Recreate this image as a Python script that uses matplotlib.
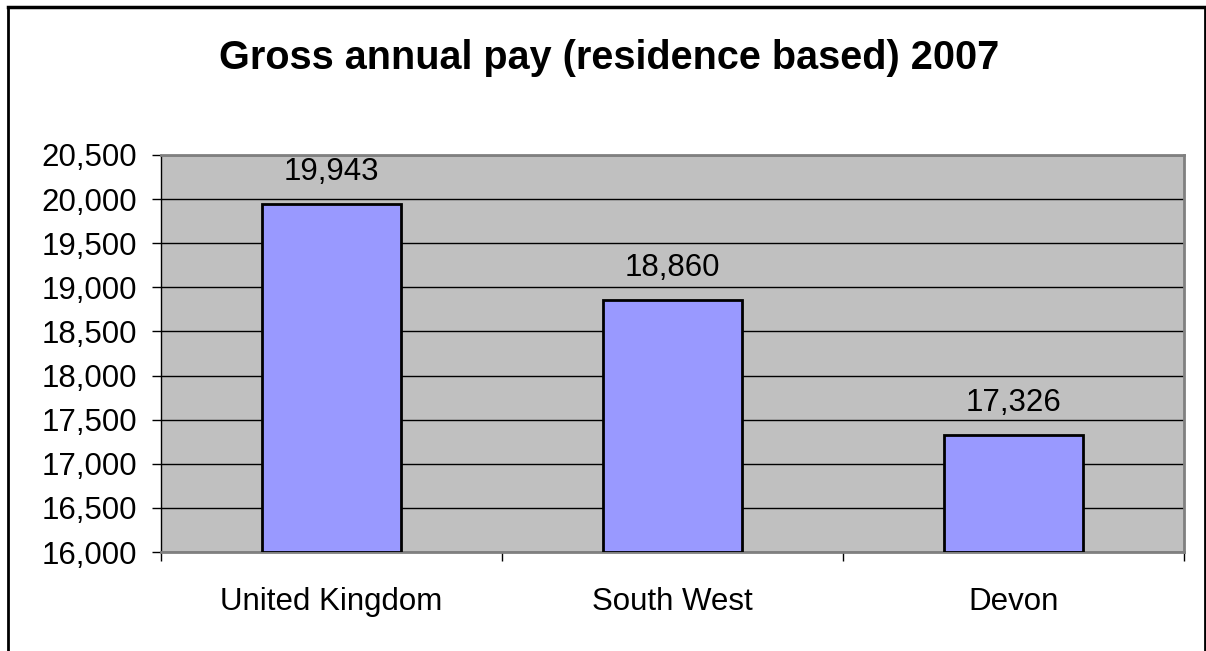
import matplotlib.pyplot as plt
from matplotlib.lines import Line2D
from matplotlib.ticker import FuncFormatter

categories = ['United Kingdom', 'South West', 'Devon']
pay = [19943, 18860, 17326]
y_ticks = list(range(16000, 20501, 500))

plt.rcParams['font.family'] = ['Liberation Sans', 'DejaVu Sans']

fig = plt.figure(figsize=(12.06, 6.51), dpi=100)
ax = fig.add_axes([161 / 1206, 1 - 552 / 651, 1023 / 1206, 397 / 651])

ax.set_facecolor('#C0C0C0')
x = range(len(categories))
bars = ax.bar(x, [v - 16000 for v in pay], bottom=16000, width=0.405,
              color='#9999FF', edgecolor='black', linewidth=2, zorder=3)

ax.set_ylim(16000, 20500)
ax.set_xlim(-0.5, len(categories) - 0.5)
ax.set_yticks(y_ticks)
ax.yaxis.set_major_formatter(FuncFormatter(lambda v, p: f'{int(v):,}'))
ax.grid(axis='y', color='black', linewidth=1, zorder=1)
ax.tick_params(axis='y', labelsize=22.5, length=6.5, width=1, color='black', pad=10.5)

# category labels without ticks, boundary ticks separately
ax.set_xticks(list(x))
ax.set_xticklabels(categories, fontsize=22.5)
ax.tick_params(axis='x', length=0, pad=25)
ax.set_xticks([i - 0.5 for i in range(len(categories) + 1)], minor=True)
ax.tick_params(axis='x', which='minor', length=6.5, width=1, color='black')

for side in ['top', 'right', 'bottom']:
    ax.spines[side].set_color('#808080')
    ax.spines[side].set_linewidth(2)
ax.spines['left'].set_color('black')
ax.spines['left'].set_linewidth(1)

for b, v in zip(bars, pay):
    ax.text(b.get_x() + b.get_width() / 2, v + 270, f'{v:,}',
            ha='center', va='baseline', fontsize=22.5)

fig.text(609 / 1206, 1 - 69 / 651, 'Gross annual pay (residence based) 2007',
         ha='center', va='baseline', fontsize=28.5, fontweight='bold')

# outer chart border (bottom edge is cut off)
fig.add_artist(Line2D([8 / 1206, 8 / 1206], [0, 1 - 7 / 651],
                      transform=fig.transFigure, color='black', linewidth=2))
fig.add_artist(Line2D([8 / 1206, 1205 / 1206], [1 - 7 / 651, 1 - 7 / 651],
                      transform=fig.transFigure, color='black', linewidth=2.5))
fig.add_artist(Line2D([1205 / 1206, 1205 / 1206], [0, 1 - 7 / 651],
                      transform=fig.transFigure, color='black', linewidth=2))

fig.savefig('out.png', dpi=100)
